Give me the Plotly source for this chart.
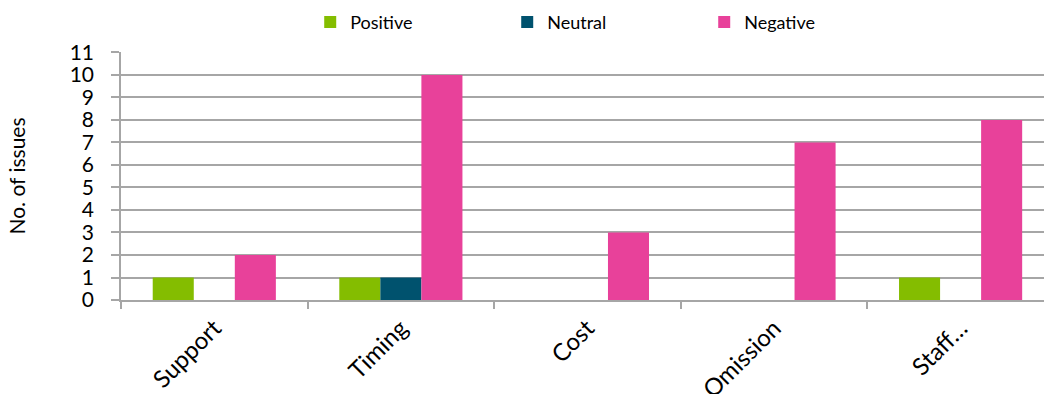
import plotly.graph_objects as go

categories = ["Support", "Timing", "Cost", "Omission", "Staff…"]
positive = [1, 1, 0, 0, 1]
neutral = [0, 1, 0, 0, 0]
negative = [2, 10, 3, 7, 8]
y_ticks = list(range(0, 12))

FONT = "Lato, Carlito, Calibri, sans-serif"
GRID = "#a6a6a6"

fig = go.Figure()
fig.add_trace(go.Bar(name="Positive", x=categories, y=positive, marker_color="#84bd00"))
fig.add_trace(go.Bar(name="Neutral", x=categories, y=neutral, marker_color="#00526e"))
fig.add_trace(go.Bar(name="Negative", x=categories, y=negative, marker_color="#e8419a"))

fig.update_traces(marker_line_width=0)

fig.update_layout(
    width=1044,
    height=394,
    barmode="group",
    bargap=0.34,
    bargroupgap=0,
    plot_bgcolor="white",
    paper_bgcolor="white",
    font=dict(family=FONT, color="#000000"),
    margin=dict(l=121, r=0, t=52, b=94, pad=0, autoexpand=False),
    legend=dict(
        orientation="h",
        x=0.205,
        xanchor="left",
        y=1.12,
        yanchor="middle",
        font=dict(size=18),
        entrywidth=152,
        itemwidth=30,
        traceorder="normal",
    ),
    xaxis=dict(
        type="category",
        range=[-0.5, 4.447],
        showline=True,
        linecolor=GRID,
        linewidth=1.5,
        ticks="outside",
        tickson="boundaries",
        ticklen=7,
        tickcolor=GRID,
        tickwidth=1.5,
        tickangle=-45,
        tickfont=dict(size=24),
        ticklabelstandoff=3,
        showgrid=False,
    ),
    yaxis=dict(
        range=[0, 11.02],
        tickvals=y_ticks,
        ticktext=[str(v) for v in y_ticks],
        showline=True,
        linecolor=GRID,
        linewidth=1.5,
        ticks="outside",
        ticklen=8,
        tickcolor=GRID,
        tickwidth=1.5,
        tickfont=dict(size=21),
        ticklabelstandoff=13,
        showgrid=True,
        gridcolor=GRID,
        gridwidth=1.5,
        zeroline=False,
        title=dict(text="No. of issues", font=dict(size=21), standoff=38),
    ),
)

fig.write_html("out.html")
